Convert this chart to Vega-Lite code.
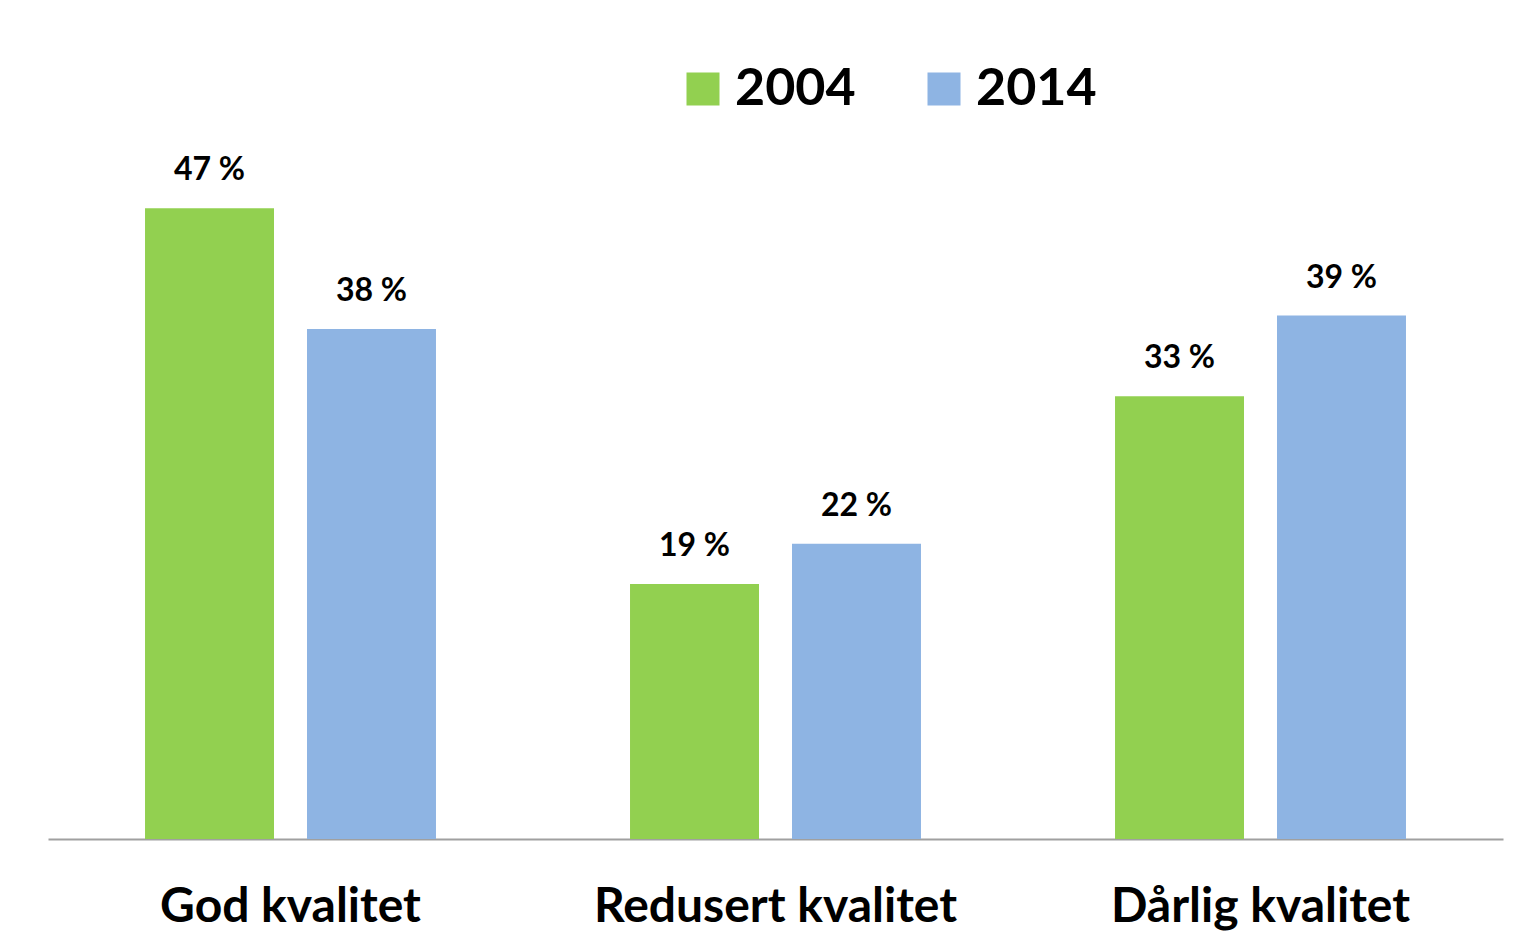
{
  "$schema": "https://vega.github.io/schema/vega-lite/v6.json",
  "autosize": {"type": "none"},
  "width": 1455,
  "height": 671,
  "padding": {"left": 48, "top": 168, "right": 16, "bottom": 92},
  "background": "white",
  "config": {"view": {"stroke": null}, "font": "Lato"},
  "data": {
    "values": [
      {"kategori": "God kvalitet", "år": "2004", "verdi": 47, "label": "47 %"},
      {"kategori": "God kvalitet", "år": "2014", "verdi": 38, "label": "38 %"},
      {"kategori": "Redusert kvalitet", "år": "2004", "verdi": 19, "label": "19 %"},
      {"kategori": "Redusert kvalitet", "år": "2014", "verdi": 22, "label": "22 %"},
      {"kategori": "Dårlig kvalitet", "år": "2004", "verdi": 33, "label": "33 %"},
      {"kategori": "Dårlig kvalitet", "år": "2014", "verdi": 39, "label": "39 %"}
    ]
  },
  "encoding": {
    "x": {
      "field": "kategori", "type": "nominal",
      "sort": ["God kvalitet", "Redusert kvalitet", "Dårlig kvalitet"],
      "scale": {"paddingInner": 0, "paddingOuter": 0},
      "axis": {
        "title": null, "labelAngle": 0, "ticks": false, "tickSize": 0,
        "domainColor": "#A0A0A0", "domainWidth": 2,
        "labelFont": "Lato", "labelFontWeight": "bold", "labelFontSize": 48,
        "labelColor": "#000000", "labelBaseline": "alphabetic", "labelPadding": 82,
        "labelLimit": 600
      }
    },
    "xOffset": {
      "field": "år", "type": "nominal",
      "scale": {"paddingInner": 0.2037, "paddingOuter": 0.599}
    },
    "y": {
      "field": "verdi", "type": "quantitative",
      "scale": {"domain": [0, 50], "nice": false},
      "axis": null
    }
  },
  "layer": [
    {
      "mark": {"type": "bar"},
      "encoding": {
        "color": {
          "field": "år", "type": "nominal",
          "scale": {"domain": ["2004", "2014"], "range": ["#92D050", "#8EB4E3"]},
          "legend": {
            "title": null, "orient": "none", "legendX": 629, "legendY": -105,
            "direction": "horizontal", "columns": 2,
            "symbolType": "square", "symbolSize": 1089, "symbolStrokeWidth": 0,
            "labelFont": "Lato", "labelFontWeight": "bold", "labelFontSize": 52,
            "labelColor": "#000000", "labelOffset": 6, "columnPadding": 62,
            "labelLimit": 300
          }
        }
      }
    },
    {
      "mark": {"type": "text", "baseline": "alphabetic", "dy": -28, "font": "Lato", "fontWeight": "bold", "fontSize": 32, "color": "#000000"},
      "encoding": {
        "text": {"field": "label", "type": "nominal"}
      }
    }
  ]
}
